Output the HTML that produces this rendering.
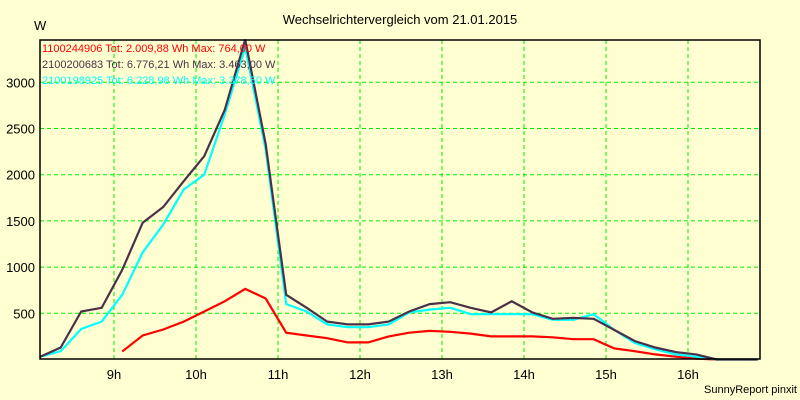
<!DOCTYPE html>
<html><head><meta charset="utf-8"><style>
body{margin:0;background:#ffffd2;}
svg{display:block;font-family:"Liberation Sans",sans-serif;}
</style></head><body>
<svg id="c" width="800" height="400">
<rect width="800" height="400" fill="#ffffd2"/>
<text x="400" y="24" text-anchor="middle" font-size="13" fill="#000">Wechselrichtervergleich vom 21.01.2015</text>
<text x="34" y="30" font-size="13" fill="#000">W</text>
<text x="797" y="393" text-anchor="end" font-size="11" fill="#000">SunnyReport pinxit</text>
<g id="grid"></g><g id="series"></g>
<rect x="40" y="40" width="720" height="319" fill="none" stroke="#000" stroke-width="1.5"/>
<g font-size="11">
<text x="42" y="52" fill="#ff0000">1100244906 Tot: 2.009,88 Wh Max: 764,00 W</text>
<text x="42" y="68" fill="#4a3048">2100200683 Tot: 6.776,21 Wh Max: 3.463,00 W</text>
<text x="42" y="84" fill="#00ffff">2100198925 Tot: 6.228,98 Wh Max: 3.378,50 W</text>
</g>
</svg>
<script>
const xTicks=[9,10,11,12,13,14,15,16];
const xTickLabels=["9h","10h","11h","12h","13h","14h","15h","16h"];
const yTicks=[500,1000,1500,2000,2500,3000];
const tStart=8.1, tStep=0.25;
const black=[30,130,520,560,970,1480,1650,1930,2200,2700,3463,2330,700,560,410,380,380,410,520,600,620,560,510,630,510,440,450,440,320,200,130,80,55,0,0,0];
const cyan=[30,90,330,410,700,1160,1460,1840,2000,2650,3379,2270,600,520,380,350,350,380,510,540,560,490,490,490,490,430,430,490,320,180,110,55,30,0,0,0];
const red=[null,null,null,null,87,260,325,410,520,630,764,660,290,260,230,185,185,250,290,310,300,280,250,250,250,240,220,220,120,90,55,30,10,0];
const NS="http://www.w3.org/2000/svg";
function xS(t){return 114+(t-9)*82;}
function yS(v){return 359.5-v*0.0924;}
const g=document.getElementById('grid'), s=document.getElementById('series'), svg=document.getElementById('c');
xTicks.forEach((t,i)=>{
 const l=document.createElementNS(NS,'line');
 l.setAttribute('x1',xS(t));l.setAttribute('x2',xS(t));l.setAttribute('y1',40);l.setAttribute('y2',359);
 l.setAttribute('stroke','#00ee00');l.setAttribute('stroke-dasharray','4,3');
 
 
 g.appendChild(l);
 const tx=document.createElementNS(NS,'text');
 tx.setAttribute('x',xS(t));tx.setAttribute('y',379);tx.setAttribute('text-anchor','middle');tx.setAttribute('font-size','13');
 tx.textContent=xTickLabels[i];
 
 
 svg.appendChild(tx);
});
yTicks.forEach(v=>{
 const l=document.createElementNS(NS,'line');
 l.setAttribute('x1',40);l.setAttribute('x2',760);l.setAttribute('y1',yS(v));l.setAttribute('y2',yS(v));
 l.setAttribute('stroke','#00ee00');l.setAttribute('stroke-dasharray','4,3');
 
 
 g.appendChild(l);
 const tx=document.createElementNS(NS,'text');
 tx.setAttribute('x',35);tx.setAttribute('y',yS(v)+5);tx.setAttribute('text-anchor','end');tx.setAttribute('font-size','13');
 tx.textContent=v;
 
 
 svg.appendChild(tx);
});
function line(arr,color,name){
 const pts=[];
 arr.forEach((v,i)=>{if(v!==null)pts.push(xS(tStart+i*tStep).toFixed(1)+','+yS(v).toFixed(1));});
 const p=document.createElementNS(NS,'polyline');
 p.setAttribute('points',pts.join(' '));p.setAttribute('fill','none');p.setAttribute('stroke',color);p.setAttribute('stroke-width','2.2');
 
 
 s.appendChild(p);
}
line(red,'#ff0000','series-1100244906');
line(cyan,'#00ffff','series-2100198925');
line(black,'#4a3048','series-2100200683');
</script>
</body></html>
